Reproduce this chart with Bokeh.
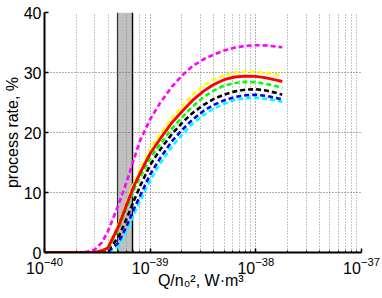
import numpy as np
from bokeh.plotting import figure
from bokeh.models import FixedTicker, LogTickFormatter, Range1d
from bokeh.embed import file_html
from bokeh.resources import INLINE

# ---- data ----
q_vals = [1e-40, 2e-40, 2.5e-40, 3e-40, 3.5e-40, 4e-40, 5e-40, 6e-40, 7e-40, 8e-40,
          1e-39, 1.25e-39, 1.6e-39, 2e-39, 2.5e-39, 3.2e-39, 4e-39, 5e-39,
          6.3e-39, 8e-39, 1e-38, 1.25e-38, 1.6e-38, 1.78e-38]
magenta_vals = [0, 0, 0.1, 0.5, 1.7, 3.6, 7.9, 11.8, 15.5, 18.6, 22.2, 25.0, 27.6,
                29.5, 31.0, 32.2, 33.0, 33.65, 34.15, 34.45, 34.55, 34.5, 34.3, 34.2]
yellow_vals = [0, 0, 0, 0, 0.4, 1.0, 4.6, 8.4, 11.5, 13.8, 17.2, 19.8, 22.4,
               24.3, 26.2, 27.8, 28.8, 29.5, 29.95, 30.1, 30.1, 29.9, 29.6, 29.5]
green_vals = [0, 0, 0, 0, 0.2, 0.6, 3.9, 7.5, 10.4, 12.5, 15.7, 18.1, 20.6,
              22.5, 24.3, 25.9, 27.0, 27.8, 28.25, 28.45, 28.4, 28.1, 27.65, 27.4]
black_vals = [0, 0, 0, 0, 0.1, 0.4, 2.5, 5.7, 8.6, 11.0, 14.6, 17.2, 19.7,
              21.6, 23.2, 24.6, 25.6, 26.3, 26.85, 27.15, 27.2, 27.0, 26.55, 26.3]
blue_vals = [0, 0, 0, 0, 0, 0.2, 1.6, 4.4, 7.2, 9.4, 13.0, 15.8, 18.5,
             20.4, 22.1, 23.6, 24.6, 25.35, 25.9, 26.2, 26.3, 26.1, 25.7, 25.5]
cyan_vals = [0, 0, 0, 0, 0, 0.1, 1.0, 3.6, 6.3, 8.5, 12.0, 14.9, 17.6,
             19.6, 21.4, 22.9, 24.0, 24.8, 25.4, 25.7, 25.8, 25.6, 25.3, 25.1]
red_vals = [0, 0, 0, 0, 0.3, 0.8, 4.3, 8.0, 11.0, 13.2, 16.5, 19.0, 21.6,
            23.5, 25.3, 26.9, 28.0, 28.8, 29.25, 29.4, 29.35, 29.1, 28.7, 28.5]

band_left = [4.9e-40]
band_right = [6.8e-40]
band_bottom = [0]
band_top = [40]

x_major = [1e-40, 1e-39, 1e-38, 1e-37]
x_minor = [m * d for d in [1e-40, 1e-39, 1e-38] for m in range(2, 10)]
y_major = [0, 10, 20, 30, 40]

FONT = "Liberation Sans"

p = figure(width=382, height=298, x_axis_type="log",
           x_range=Range1d(1e-40, 1e-37), y_range=Range1d(0, 40),
           output_backend="svg", toolbar_location=None,
           min_border_left=43, min_border_right=21,
           min_border_top=12, min_border_bottom=46)
p.outline_line_color = None
p.background_fill_color = "white"
p.border_fill_color = "white"

# gray band
p.quad(left=band_left, right=band_right, bottom=band_bottom, top=band_top,
       fill_color="#c0c0c0", line_color=None, level="image")
p.segment(x0=band_left, y0=band_bottom, x1=band_left, y1=band_top,
          line_color="#202020", line_width=1, level="image")
p.segment(x0=band_right, y0=band_bottom, x1=band_right, y1=band_top,
          line_color="black", line_width=1.3, level="image")

dash = "5 3"
lw = 2.6
p.line(q_vals, magenta_vals, line_color="#ff00ff", line_width=lw, line_dash=dash)
p.line(q_vals, cyan_vals, line_color="#00ffff", line_width=lw, line_dash=dash)
p.line(q_vals, blue_vals, line_color="#0000ff", line_width=lw, line_dash=dash)
p.line(q_vals, black_vals, line_color="black", line_width=lw, line_dash=dash)
p.line(q_vals, green_vals, line_color="#00ff00", line_width=lw, line_dash=dash)
p.line(q_vals, yellow_vals, line_color="#ffff00", line_width=lw, line_dash=dash)
p.line(q_vals, red_vals, line_color="#ff0000", line_width=2.9)

# grid
p.xgrid.grid_line_color = "#606060"
p.xgrid.grid_line_dash = "1 2"
p.xgrid.minor_grid_line_color = "#8c8c8c"
p.xgrid.minor_grid_line_dash = "1 2"
p.ygrid.grid_line_color = "#606060"
p.ygrid.grid_line_dash = "1 2"

# axes
p.xaxis.ticker = FixedTicker(ticks=x_major, minor_ticks=x_minor)
p.xaxis.formatter = LogTickFormatter()
p.yaxis.ticker = FixedTicker(ticks=y_major)
for ax in (p.xaxis[0], p.yaxis[0]):
    ax.axis_line_width = 2
    ax.axis_line_color = "black"
    ax.major_tick_in = 4
    ax.major_tick_out = 0
    ax.major_tick_line_width = 1.5
    ax.major_label_text_font = FONT
    ax.major_label_text_font_size = "16px"
    ax.major_label_text_color = "black"
    ax.axis_label_text_font = FONT
    ax.axis_label_text_font_size = "16px"
    ax.axis_label_text_font_style = "normal"
    ax.axis_label_text_color = "black"
p.xaxis.minor_tick_in = 2
p.xaxis.minor_tick_out = 0
p.yaxis.minor_tick_line_color = None
p.xaxis.major_label_standoff = 4
p.yaxis.major_label_standoff = 3

p.yaxis.axis_label = "process rate, %"
p.yaxis.axis_label_standoff = 0
p.xaxis.axis_label = "Q/n\u2080\u00b2, W\u00b7m\u00b3\u00a0"
p.xaxis.axis_label_standoff = -5

open("out.html", "w").write(file_html(p, INLINE))
